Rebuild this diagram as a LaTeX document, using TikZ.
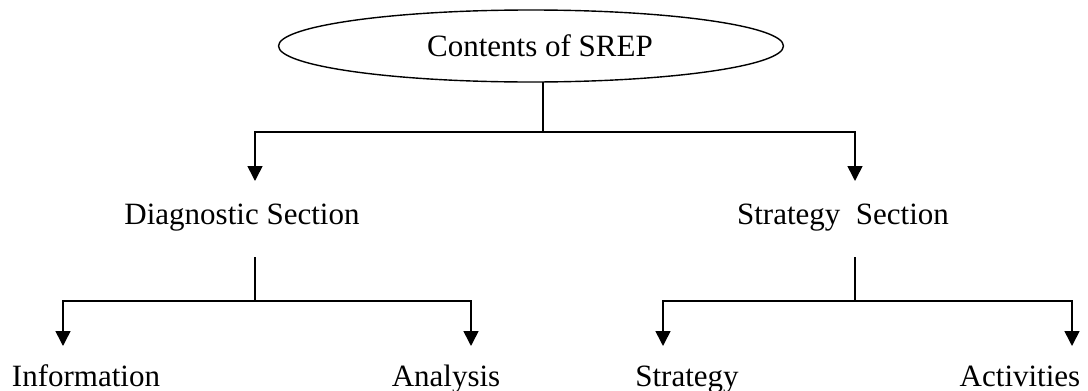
\documentclass[tikz,border=0pt]{standalone}
\usepackage{fontspec}
\setmainfont{Liberation Serif}
\usetikzlibrary{arrows.meta,shapes.geometric}

\begin{document}
\begin{tikzpicture}[x=1pt,y=-1pt,
        link/.style={line width=1.6pt},
        arr/.style={link,-{Triangle[width=15pt,length=15pt]}},
        lbl/.style={anchor=base,inner sep=0pt,font=\fontsize{31}{36}\selectfont}]
    \useasboundingbox (0,0) rectangle (1088,391);
    % top of the tree
    \node[draw,ellipse,line width=1.4pt,minimum width=505pt,minimum height=72pt,
          inner sep=0pt] (srep) at (531,46) {};
    \node[lbl] (title) at (540,56) {Contents of SREP};
    \coordinate (rstem) at (543,82);
    % second level
    \node[lbl] (diag) at (242,224) {Diagnostic Section};
    \node[lbl] (strat) at (843,224) {Strategy\ \ Section};
    \coordinate (dtip) at (255,181);
    \coordinate (stip) at (855,181);
    \draw[arr] (rstem) -- ++(0,50) -| (dtip);
    \draw[arr] (rstem) -- ++(0,50) -| (stip);
    % third level
    \node[lbl] (info) at (86,386) {Information};
    \node[lbl] (anal) at (446,386) {Analysis};
    \node[lbl] (plan) at (687,386) {Strategy};
    \node[lbl] (acti) at (1020,386) {Activities};
    \coordinate (dstem) at (255,257);
    \coordinate (sstem) at (855,257);
    \coordinate (itip) at (63,346);
    \coordinate (atip) at (471,346);
    \coordinate (ptip) at (663,346);
    \coordinate (ctip) at (1072,346);
    \draw[arr] (dstem) -- ++(0,44) -| (itip);
    \draw[arr] (dstem) -- ++(0,44) -| (atip);
    \draw[arr] (sstem) -- ++(0,44) -| (ptip);
    \draw[arr] (sstem) -- ++(0,44) -| (ctip);
\end{tikzpicture}
\end{document}
